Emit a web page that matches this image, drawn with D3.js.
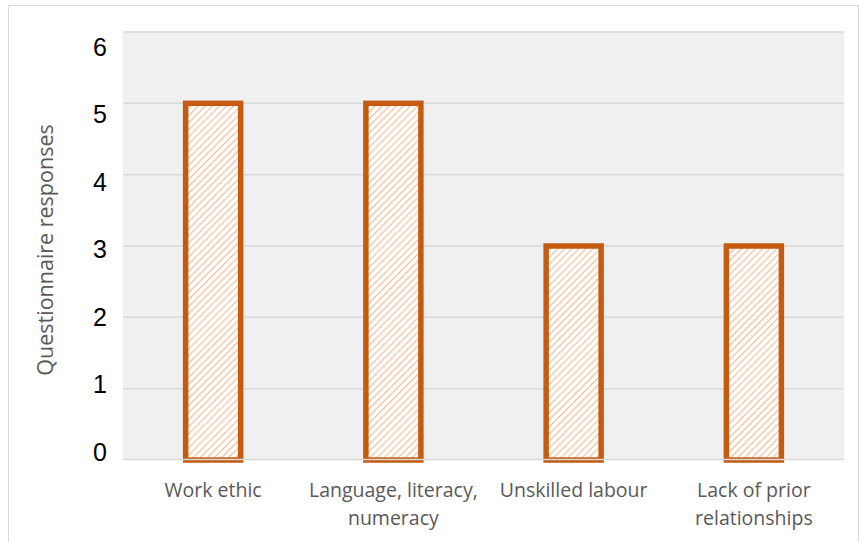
<!DOCTYPE html>
<html>
<head>
<meta charset="utf-8">
<script src="https://cdn.jsdelivr.net/npm/d3@7"></script>
<style>
  body { margin: 0; background: #fff; }
  svg { display: block; }
</style>
</head>
<body>
<div id="wrapper"></div>
<script>
// data
const categories = ["Work ethic", "Language, literacy, numeracy", "Unskilled labour", "Lack of prior relationships"];
const labelLines = [["Work ethic"], ["Language, literacy,", "numeracy"], ["Unskilled labour"], ["Lack of prior", "relationships"]];
const responses = [5, 5, 3, 3];
const yTicks = [0, 1, 2, 3, 4, 5, 6];

const drawBarChart = () => {
    const width = 859, height = 542;
    let dimensions = {
        width: width,
        height: height,
        margin: { top: 32, right: 15, bottom: 82, left: 123 }
    };
    dimensions.boundedWidth = dimensions.width - dimensions.margin.left - dimensions.margin.right;
    dimensions.boundedHeight = dimensions.height - dimensions.margin.top - dimensions.margin.bottom;

    const svg = d3.select("#wrapper").append("svg")
        .attr("width", dimensions.width)
        .attr("height", dimensions.height);

    // hatch fill
    const pat = svg.append("defs").append("pattern")
        .attr("id", "hatch")
        .attr("patternUnits", "userSpaceOnUse")
        .attr("width", 5).attr("height", 5)
        .attr("patternTransform", "rotate(45)");
    pat.append("rect").attr("width", 5).attr("height", 5).attr("fill", "#ffffff");
    pat.append("line")
        .attr("x1", 0).attr("y1", 0).attr("x2", 0).attr("y2", 5)
        .attr("stroke", "#f6bb94").attr("stroke-width", 2.2);

    // outer frame
    svg.append("rect")
        .attr("x", 8.5).attr("y", 5.5)
        .attr("width", 850).attr("height", 545)
        .attr("fill", "none").attr("stroke", "#d9d9d9");

    const bounds = svg.append("g")
        .attr("transform", `translate(${dimensions.margin.left}, ${dimensions.margin.top})`);

    // scales
    const xScale = d3.scaleBand()
        .domain(categories)
        .range([0, dimensions.boundedWidth]);

    const yScale = d3.scaleLinear()
        .domain([0, 6])
        .range([dimensions.boundedHeight, 0]);

    // tick labels sit on their own slightly compressed scale in the original
    const labelScale = d3.scaleLinear()
        .domain([0, 6])
        .range([dimensions.boundedHeight - 8, 15]);

    // plot background
    bounds.append("rect")
        .attr("width", dimensions.boundedWidth)
        .attr("height", dimensions.boundedHeight)
        .attr("fill", "#f0f0f0");

    // gridlines
    bounds.append("g")
        .selectAll("line")
        .data(yTicks.filter(d => d > 0))
        .join("line")
        .attr("x1", 0).attr("x2", dimensions.boundedWidth)
        .attr("y1", d => yScale(d)).attr("y2", d => yScale(d))
        .attr("stroke", "#d9d9d9").attr("stroke-width", 1.5);

    // bars
    const barW = 55;
    bounds.append("g")
        .selectAll("rect")
        .data(responses)
        .join("rect")
        .attr("x", (d, i) => xScale(categories[i]) + xScale.bandwidth() / 2 - barW / 2)
        .attr("y", d => yScale(d))
        .attr("width", barW)
        .attr("height", d => yScale(0) - yScale(d))
        .attr("fill", "url(#hatch)")
        .attr("stroke", "#c55a11")
        .attr("stroke-width", 5.5);

    // x axis line
    bounds.append("line")
        .attr("x1", 0).attr("x2", dimensions.boundedWidth)
        .attr("y1", yScale(0) - 0.5).attr("y2", yScale(0) - 0.5)
        .attr("stroke", "#d9d9d9").attr("stroke-width", 1.5);

    // y tick labels
    bounds.append("g")
        .selectAll("text")
        .data(yTicks)
        .join("text")
        .attr("x", -16)
        .attr("y", d => labelScale(d))
        .attr("dy", "0.35em")
        .attr("text-anchor", "end")
        .attr("font-family", "'Liberation Sans', Arial, sans-serif")
        .attr("font-size", 25)
        .attr("fill", "#000")
        .text(d => d);

    // category labels
    const catG = bounds.append("g")
        .selectAll("text")
        .data(labelLines)
        .join("text")
        .attr("text-anchor", "middle")
        .attr("font-family", "'Open Sans', sans-serif")
        .attr("font-size", 19.5)
        .attr("fill", "#595959");
    catG.selectAll("tspan")
        .data((d, i) => d.map(line => ({ line, i })))
        .join("tspan")
        .attr("x", d => xScale(categories[d.i]) + xScale.bandwidth() / 2)
        .attr("y", (d, j) => dimensions.boundedHeight + 37 + j * 28)
        .text(d => d.line);

    // y axis title
    svg.append("text")
        .attr("transform", `translate(53, ${dimensions.margin.top + dimensions.boundedHeight / 2 + 4}) rotate(-90)`)
        .attr("text-anchor", "middle")
        .attr("font-family", "'Open Sans', sans-serif")
        .attr("font-size", 21.5)
        .attr("fill", "#595959")
        .text("Questionnaire responses");
};

drawBarChart();
</script>
</body>
</html>
